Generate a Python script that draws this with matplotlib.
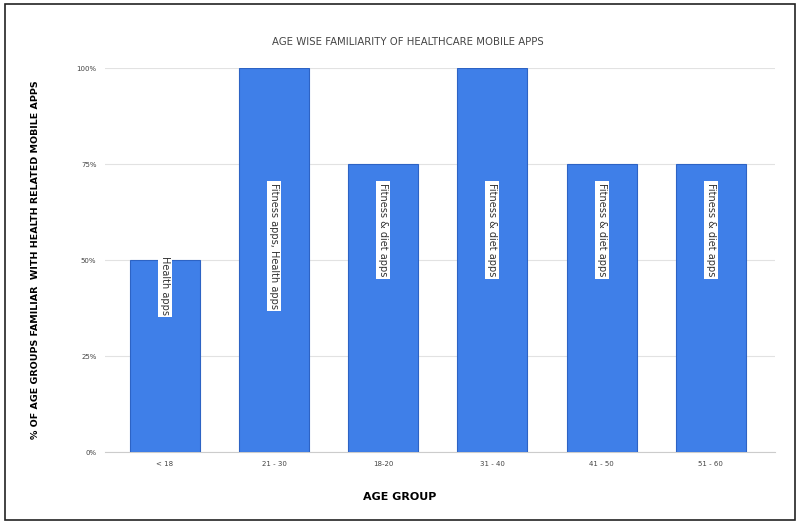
import matplotlib
matplotlib.use("Agg")
import matplotlib.pyplot as plt
from matplotlib.patches import Rectangle

# data
age_groups = ["< 18", "21 - 30", "18-20", "31 - 40", "41 - 50", "51 - 60"]
familiar_pct = [50, 100, 75, 100, 75, 75]
app_labels = ["Health apps", "Fitness apps, Health apps", "Fitness & diet apps",
              "Fitness & diet apps", "Fitness & diet apps", "Fitness & diet apps"]
y_ticks = [0, 25, 50, 75, 100]

fig = plt.figure(figsize=(8, 5.24), dpi=100)
ax = fig.add_axes([0.131, 0.137, 0.838, 0.733])

x = range(len(age_groups))
ax.bar(x, familiar_pct, width=0.64, color="#3f7fe8", edgecolor="#2d63c4",
       linewidth=0.8, zorder=3)

for i, (v, lab) in enumerate(zip(familiar_pct, app_labels)):
    ax.text(i, min(v + 1, 70), lab, rotation=-90, ha="center", va="top",
            fontsize=7, color="#333333", zorder=4,
            bbox=dict(boxstyle="square,pad=0.2", fc="white", ec="none"))

ax.set_xlim(-0.55, 5.59)
ax.set_ylim(0, 100)
ax.set_yticks(y_ticks)
ax.set_yticklabels([f"{t}%" for t in y_ticks], fontsize=5, color="#444444")
ax.set_xticks(list(x))
ax.set_xticklabels(age_groups, fontsize=5, color="#444444")
ax.tick_params(length=0, pad=6)
ax.grid(axis="y", color="#e2e2e2", linewidth=0.8, zorder=0)
for s in ["top", "right", "left"]:
    ax.spines[s].set_visible(False)
ax.spines["bottom"].set_color("#cccccc")

fig.text(0.51, 0.92, "AGE WISE FAMILIARITY OF HEALTHCARE MOBILE APPS", fontsize=7.3,
         color="#444444", ha="center", va="center")
fig.text(0.044, 0.505, "% OF AGE GROUPS FAMILIAR  WITH HEALTH RELATED MOBILE APPS",
         rotation=90, fontsize=6.8, fontweight="bold", ha="center", va="center")
fig.text(0.5, 0.052, "AGE GROUP", fontsize=8, fontweight="bold", ha="center", va="center")

# outer frame
fig.patches.append(Rectangle((0.006, 0.008), 0.988, 0.984, transform=fig.transFigure,
                             fill=False, ec="#222222", lw=1.2))

fig.savefig("out.png", dpi=100)
